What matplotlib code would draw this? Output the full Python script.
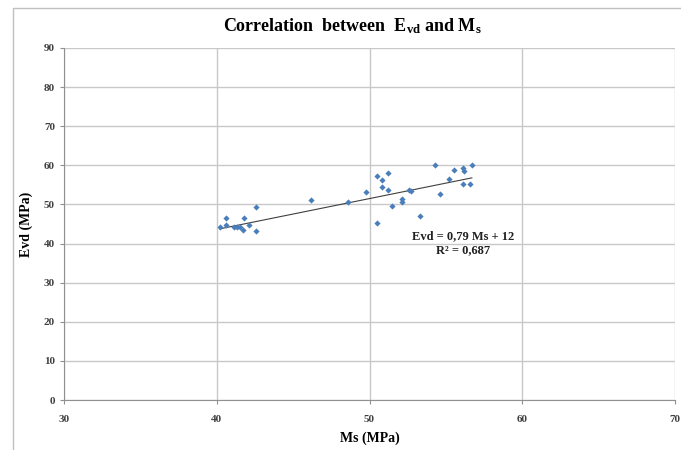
import numpy as np
import matplotlib.pyplot as plt
from matplotlib.patches import Rectangle

# data
ms = [40.2, 40.6, 40.6, 41.1, 41.3, 41.5, 41.7, 41.8, 42.1, 42.6, 42.6,
      46.2, 48.6, 49.8, 50.5, 50.8, 51.2, 50.8, 51.2, 50.5, 51.5,
      52.1, 52.1, 52.6, 52.7, 53.3, 54.3, 54.6, 55.2, 55.5, 56.1, 56.2,
      56.7, 56.1, 56.6]
evd = [44.2, 46.5, 44.8, 44.3, 44.3, 44.2, 43.5, 46.5, 44.8, 49.3, 43.1,
       51.2, 50.5, 53.1, 57.4, 56.3, 58.0, 54.5, 53.8, 45.2, 49.7,
       51.5, 50.7, 53.7, 53.4, 47.1, 60.2, 52.7, 56.5, 58.7, 59.2, 58.6,
       60.1, 55.3, 55.2]

# trend line given on the chart
slope = 0.79
intercept = 12.0
r2 = 0.687

xticks = [30, 40, 50, 60, 70]
yticks = [0, 10, 20, 30, 40, 50, 60, 70, 80, 90]

plt.rcParams['mathtext.fontset'] = 'custom'
plt.rcParams['mathtext.rm'] = 'Liberation Serif'
plt.rcParams['mathtext.bf'] = 'Liberation Serif:bold'
plt.rcParams['mathtext.it'] = 'Liberation Serif:italic'

serif = ['Liberation Serif', 'DejaVu Serif']
tick_col = '#404040'
grid_col = '#c8c8c8'

fig = plt.figure(figsize=(6.81, 4.5), dpi=100)
fig.patches.append(Rectangle((13/681, -0.1), 1.1, 1.1 - 8/450,
                             transform=fig.transFigure, fill=False,
                             edgecolor='#c0c0c0', lw=1.0))
ax = fig.add_axes([64/681, 1 - 400/450, (675 - 64)/681, (400 - 48)/450])

ax.scatter(ms, evd, marker='D', s=10, color='#4A7EBB', zorder=3, linewidths=0)

xt = np.array([min(ms), max(ms)])
ax.plot(xt, slope*xt + intercept, color='#404040', lw=0.8, zorder=2)

ax.set_xlim(30, 70)
ax.set_ylim(0, 90)
ax.set_xticks(xticks)
ax.set_yticks(yticks)
ax.grid(True, color=grid_col, lw=1.0)
ax.set_axisbelow(True)
for s in ['top', 'right']:
    ax.spines[s].set_visible(False)
for s in ['left', 'bottom']:
    ax.spines[s].set_color('#909090')
ax.tick_params(axis='both', length=3, width=0.8, color='#909090',
               labelcolor=tick_col, labelsize=8)
ax.tick_params(axis='x', pad=8)
for lab in ax.get_xticklabels() + ax.get_yticklabels():
    lab.set_family(serif)
    lab.set_fontweight('bold')

ax.set_xlabel('Ms (MPa)', family=serif, fontweight='bold', fontsize=10)
ax.set_ylabel('Evd (MPa)', family=serif, fontweight='bold', fontsize=10)
ax.xaxis.set_label_coords(0.5, -0.09)
ax.yaxis.set_label_coords(-0.05, 0.5)

fig.text(352/681, 1 - 26/450,
         r'Correlation  between  E$_{\mathbf{vd}}$ and M$_{\mathbf{s}}$',
         ha='center', va='center', family=serif, fontweight='bold',
         fontsize=13)

ax.text(463, 450 - 243, 'Evd = 0,79 Ms + 12\nR\u00b2 = 0,687',
        transform=None, ha='center', va='center', family=serif,
        fontweight='bold', fontsize=9, color='#202020', linespacing=1.15)

fig.savefig('out.png', dpi=100)
